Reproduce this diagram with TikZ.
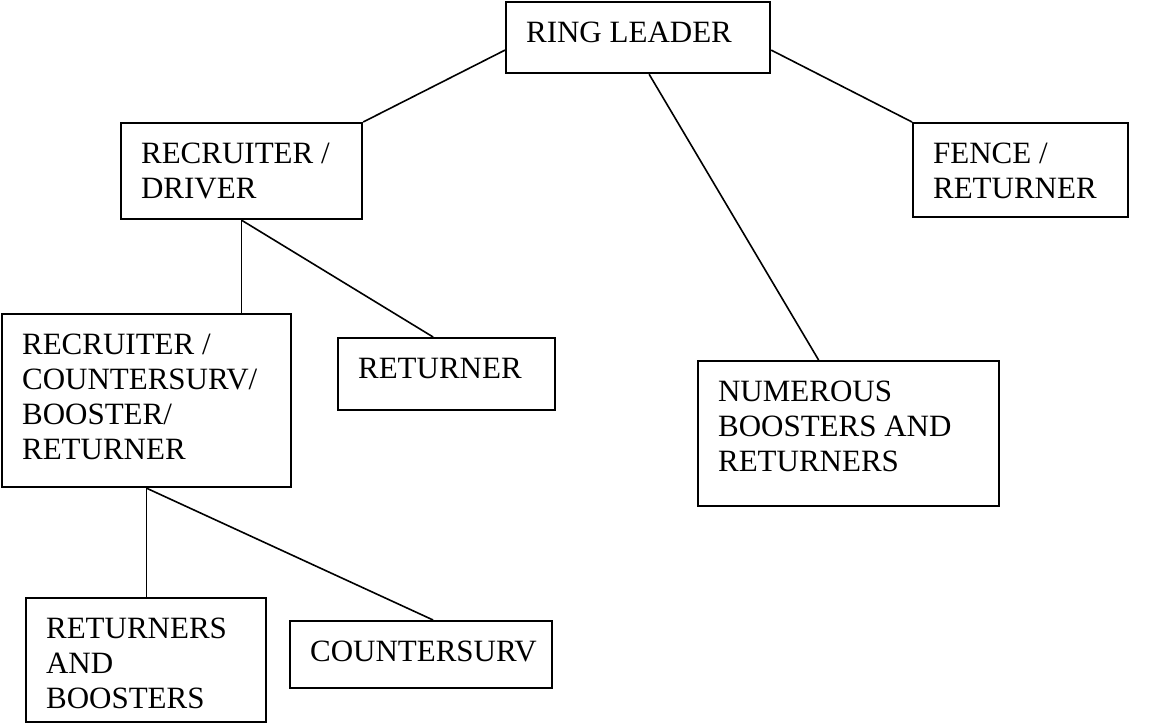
\documentclass[tikz,border=0pt]{standalone}
\usepackage{fontspec}
\setmainfont{Liberation Serif}
\usepackage{tikz}

\newcommand{\boxlines}[3]{\parbox[c][#2][t]{#1}{\vspace*{20pt}\raggedright\leftskip=20pt #3}}

\begin{document}
\begin{tikzpicture}[x=1pt,y=-1pt,
  orgbox/.style={draw, line width=2.2pt, inner sep=0pt, anchor=north west,
    font=\fontsize{31}{35}\selectfont},
  tie/.style={line width=1.6pt}]
\useasboundingbox (0,0) rectangle (1154,723);
\node[orgbox] (leader) at (505,1) {\boxlines{264pt}{71pt}{RING LEADER}};
\node[orgbox] (recr) at (120,122) {\boxlines{241pt}{96pt}{RECRUITER /\\DRIVER}};
\node[orgbox] (fence) at (912,122) {\boxlines{215pt}{94pt}{FENCE /\\RETURNER}};
\node[orgbox] (multi) at (1,313) {\boxlines{289pt}{173pt}{RECRUITER /\\COUNTERSURV/\\BOOSTER/\\RETURNER}};
\node[orgbox] (ret) at (337,337) {\boxlines{217pt}{72pt}{RETURNER}};
\node[orgbox] (numerous) at (697,360) {\boxlines{301pt}{145pt}{NUMEROUS\\BOOSTERS AND\\RETURNERS}};
\node[orgbox] (rab) at (25,597) {\boxlines{240pt}{124pt}{RETURNERS\\AND\\BOOSTERS}};
\node[orgbox] (csurv) at (289,620) {\boxlines{262pt}{67pt}{COUNTERSURV}};
\draw[tie] ([yshift=-12.5pt]leader.west) -- (recr.north east);
\draw[tie] ([yshift=-12.5pt]leader.east) -- (fence.north west);
\draw[tie] ([xshift=11pt]leader.south) -- ([xshift=-30pt]numerous.north);
\draw[tie] (recr.south) -- (recr.south |- multi.north);
\draw[tie] (recr.south) -- ([xshift=-13.5pt]ret.north);
\draw[tie] (multi.south) -- (multi.south |- rab.north);
\draw[tie] (multi.south) -- ([xshift=12pt]csurv.north);
\end{tikzpicture}
\end{document}
